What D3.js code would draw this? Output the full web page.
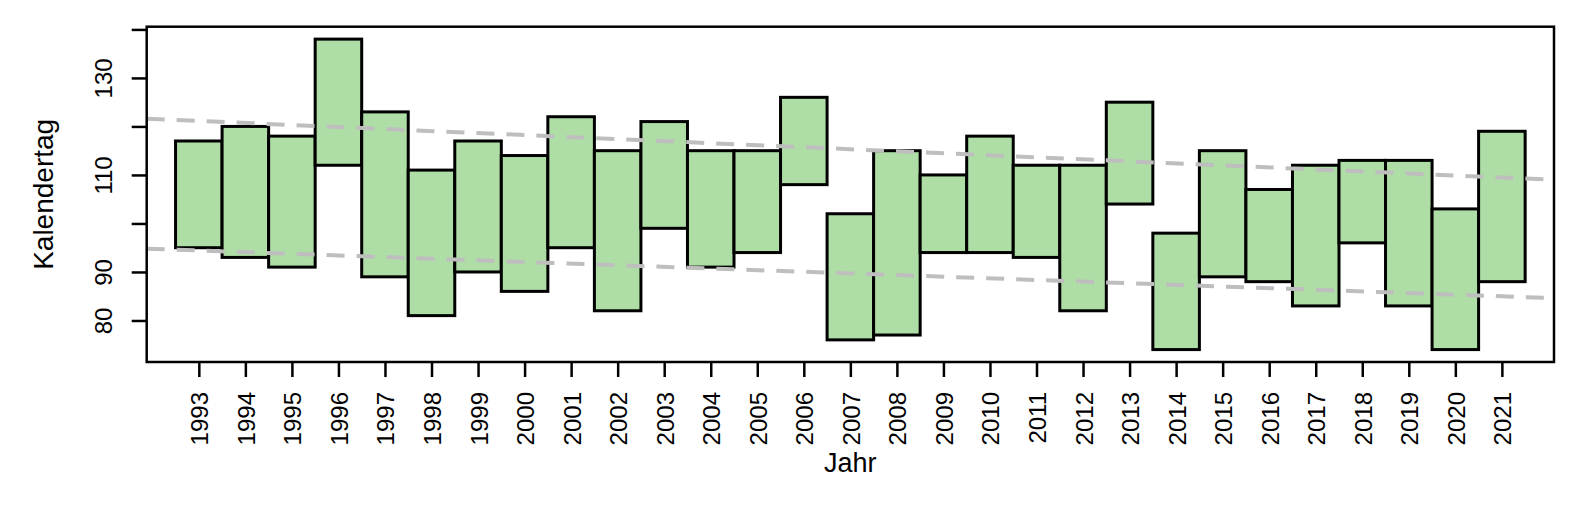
<!DOCTYPE html>
<html>
<head>
<meta charset="utf-8">
<script src="https://cdn.jsdelivr.net/npm/d3@7"></script>
<style>
  html, body { margin: 0; padding: 0; background: #fff; }
  svg { display: block; }
  text { font-family: Arial, "Liberation Sans", sans-serif; fill: #000; }
</style>
</head>
<body>
<svg id="chart" width="1584" height="510"></svg>
<script>
// ---- data ----
const years = [1993,1994,1995,1996,1997,1998,1999,2000,2001,2002,2003,2004,2005,2006,2007,2008,2009,2010,2011,2012,2013,2014,2015,2016,2017,2018,2019,2020,2021];
const startDay = [117,120,118,138,123,111,117,114,122,115,121,115,115,126,102,115,110,118,112,112,125,98,115,107,112,113,113,103,119];
const endDay   = [95,93,91,112,89,81,90,86,95,82,99,91,94,108,76,77,94,94,93,82,104,74,89,88,83,96,83,74,88];
const trendYears = [1991.88, 2022.12];
const upperTrend = [121.6, 109.0];
const lowerTrend = [94.8, 84.6];
const yTicks = [80, 90, 100, 110, 120, 130, 140];
const yTickLabels = ["80", "90", "", "110", "", "130", ""];
const xTitle = "Jahr";
const yTitle = "Kalendertag";

// ---- layout ----
const svg = d3.select("#chart");
const L = 146.7, R = 1554, T = 26.7, B = 362;
const x = d3.scaleLinear().domain([1991.88, 2022.12]).range([L, R]);
const y = d3.scaleLinear().domain([71.44, 140.56]).range([B, T]);

const fill = "rgb(174,222,165)";

// bars
svg.append("g").selectAll("rect").data(years).join("rect")
  .attr("x", (d) => x(d - 0.5))
  .attr("width", (d) => x(d + 0.5) - x(d - 0.5))
  .attr("y", (d, i) => y(Math.max(startDay[i], endDay[i])))
  .attr("height", (d, i) => Math.abs(y(startDay[i]) - y(endDay[i])))
  .attr("fill", fill)
  .attr("stroke", "#000")
  .attr("stroke-width", 3);

// trend lines
svg.append("clipPath").attr("id", "clip").append("rect")
  .attr("x", L).attr("y", T).attr("width", R - L).attr("height", B - T);
const line = d3.line().x(d => x(d[0])).y(d => y(d[1]));
[upperTrend, lowerTrend].forEach(tr => {
  svg.append("path")
    .datum(trendYears.map((yr, i) => [yr, tr[i]]))
    .attr("d", line)
    .attr("fill", "none")
    .attr("stroke", "#bebebe")
    .attr("stroke-width", 4)
    .attr("stroke-dasharray", "18,12")
    .attr("clip-path", "url(#clip)");
});

// box
svg.append("rect").attr("x", L).attr("y", T).attr("width", R - L).attr("height", B - T)
  .attr("fill", "none").attr("stroke", "#000").attr("stroke-width", 2.5);

// y axis
const yAxis = d3.axisLeft(y).tickValues(yTicks).tickSize(15)
  .tickFormat((d, i) => yTickLabels[i]);
const gy = svg.append("g").attr("transform", `translate(${L},0)`).call(yAxis);
gy.select(".domain").remove();
gy.selectAll(".tick line").attr("stroke", "#000").attr("stroke-width", 2.5);
gy.selectAll(".tick text")
  .attr("font-size", 24)
  .attr("x", null).attr("dy", null)
  .attr("text-anchor", "middle")
  .attr("transform", "translate(-35,0) rotate(-90)");

// x axis
const xAxis = d3.axisBottom(x).tickValues(years).tickSize(15).tickFormat(d3.format("d"));
const gx = svg.append("g").attr("transform", `translate(0,${B})`).call(xAxis);
gx.select(".domain").remove();
gx.selectAll(".tick line").attr("stroke", "#000").attr("stroke-width", 2.5);
gx.selectAll(".tick text")
  .attr("font-size", 24)
  .attr("y", null).attr("dy", null)
  .attr("text-anchor", "end")
  .attr("transform", "translate(9,30) rotate(-90)");

// titles
svg.append("text").attr("x", (L + R) / 2).attr("y", 472)
  .attr("text-anchor", "middle").attr("font-size", 27).text(xTitle);
svg.append("text").attr("transform", `translate(53,${(T + B) / 2}) rotate(-90)`)
  .attr("text-anchor", "middle").attr("font-size", 28).text(yTitle);
</script>
</body>
</html>
